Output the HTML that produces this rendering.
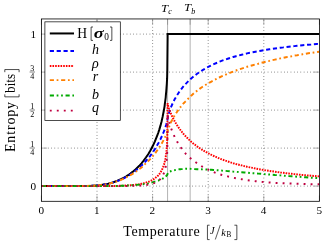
<!DOCTYPE html>
<html><head><meta charset="utf-8"><title>Entropy vs Temperature</title>
<style>html,body{margin:0;padding:0;background:#fff;width:327px;height:244px;overflow:hidden}</style></head>
<body>
<svg width="327" height="244" viewBox="0 0 327 244" style="position:absolute;left:0;top:0;will-change:transform;font-family:'Liberation Serif',serif">
<rect width="327" height="244" fill="#fff"/>
<path d="M97.00,201.30 V18.95" stroke="#111" stroke-width="0.75" stroke-dasharray="0.6 2.68" fill="none"/>
<path d="M152.60,201.30 V18.95" stroke="#111" stroke-width="0.75" stroke-dasharray="0.6 2.68" fill="none"/>
<path d="M208.20,201.30 V18.95" stroke="#111" stroke-width="0.75" stroke-dasharray="0.6 2.68" fill="none"/>
<path d="M263.80,201.30 V18.95" stroke="#111" stroke-width="0.75" stroke-dasharray="0.6 2.68" fill="none"/>
<path d="M41.40,186.10 H319.40" stroke="#111" stroke-width="0.75" stroke-dasharray="0.6 2.68" fill="none"/>
<path d="M41.40,148.10 H319.40" stroke="#111" stroke-width="0.75" stroke-dasharray="0.6 2.68" fill="none"/>
<path d="M41.40,110.10 H319.40" stroke="#111" stroke-width="0.75" stroke-dasharray="0.6 2.68" fill="none"/>
<path d="M41.40,72.10 H319.40" stroke="#111" stroke-width="0.75" stroke-dasharray="0.6 2.68" fill="none"/>
<path d="M41.40,34.10 H319.40" stroke="#111" stroke-width="0.75" stroke-dasharray="0.6 2.68" fill="none"/>
<path d="M167.57,201.30 V18.95" stroke="#808080" stroke-width="0.6" fill="none"/>
<path d="M190.15,201.30 V18.95" stroke="#808080" stroke-width="0.6" fill="none"/>
<path d="M41.40,201.30 v-5.80" stroke="#808080" stroke-width="0.6"/>
<path d="M41.40,18.95 v5.80" stroke="#808080" stroke-width="0.6"/>
<path d="M97.00,201.30 v-5.80" stroke="#808080" stroke-width="0.6"/>
<path d="M97.00,18.95 v5.80" stroke="#808080" stroke-width="0.6"/>
<path d="M152.60,201.30 v-5.80" stroke="#808080" stroke-width="0.6"/>
<path d="M152.60,18.95 v5.80" stroke="#808080" stroke-width="0.6"/>
<path d="M208.20,201.30 v-5.80" stroke="#808080" stroke-width="0.6"/>
<path d="M208.20,18.95 v5.80" stroke="#808080" stroke-width="0.6"/>
<path d="M263.80,201.30 v-5.80" stroke="#808080" stroke-width="0.6"/>
<path d="M263.80,18.95 v5.80" stroke="#808080" stroke-width="0.6"/>
<path d="M319.40,201.30 v-5.80" stroke="#808080" stroke-width="0.6"/>
<path d="M319.40,18.95 v5.80" stroke="#808080" stroke-width="0.6"/>
<path d="M167.57,18.95 v5.80" stroke="#808080" stroke-width="0.6"/>
<path d="M190.15,18.95 v5.80" stroke="#808080" stroke-width="0.6"/>
<path d="M41.40,186.10 h5.80" stroke="#808080" stroke-width="0.6"/>
<path d="M319.40,186.10 h-5.80" stroke="#808080" stroke-width="0.6"/>
<path d="M41.40,148.10 h5.80" stroke="#808080" stroke-width="0.6"/>
<path d="M319.40,148.10 h-5.80" stroke="#808080" stroke-width="0.6"/>
<path d="M41.40,110.10 h5.80" stroke="#808080" stroke-width="0.6"/>
<path d="M319.40,110.10 h-5.80" stroke="#808080" stroke-width="0.6"/>
<path d="M41.40,72.10 h5.80" stroke="#808080" stroke-width="0.6"/>
<path d="M319.40,72.10 h-5.80" stroke="#808080" stroke-width="0.6"/>
<path d="M41.40,34.10 h5.80" stroke="#808080" stroke-width="0.6"/>
<path d="M319.40,34.10 h-5.80" stroke="#808080" stroke-width="0.6"/>
<clipPath id="c"><rect x="41.40" y="18.95" width="278.00" height="182.35"/></clipPath>
<g clip-path="url(#c)" fill="none">
<path d="M41.4,186.1 69.2,186.1 80.3,186.1 85.9,186.0 91.4,185.8 97.0,185.4 99.2,185.2 101.4,184.9 103.7,184.5 105.9,184.1 108.1,183.7 110.3,183.1 112.6,182.5 114.8,181.7 117.0,180.9 119.2,180.0 121.5,179.0 123.7,177.8 125.9,176.6 128.1,175.2 130.4,173.6 132.6,171.9 134.8,170.1 137.0,168.0 139.3,165.8 141.5,163.3 143.7,160.5 145.9,157.5 148.2,154.2 150.4,150.5 152.6,146.3 154.8,141.6 157.0,136.1 158.2,133.0 159.3,129.6 160.4,125.9 161.5,121.7 162.6,116.9 163.7,111.2 164.0,109.6 164.3,107.9 164.6,106.1 164.8,104.2 165.1,102.2 165.4,99.9 165.7,97.5 165.9,94.8 166.2,91.8 166.5,88.2 166.8,84.0 167.1,78.4 167.3,70.0 167.6,38.3 167.6,34.1 167.6,34.1 167.9,34.1 168.2,34.1 168.4,34.1 168.7,34.1 169.0,34.1 169.3,34.1 169.6,34.1 169.8,34.1 170.1,34.1 170.4,34.1 170.7,34.1 170.9,34.1 171.2,34.1 171.5,34.1 172.6,34.1 173.7,34.1 174.8,34.1 176.0,34.1 177.1,34.1 178.2,34.1 179.3,34.1 180.4,34.1 181.5,34.1 182.6,34.1 183.7,34.1 184.8,34.1 186.0,34.1 188.7,34.1 191.5,34.1 194.3,34.1 197.1,34.1 199.9,34.1 202.6,34.1 205.4,34.1 208.2,34.1 211.0,34.1 213.8,34.1 216.5,34.1 219.3,34.1 222.1,34.1 224.9,34.1 227.7,34.1 230.4,34.1 233.2,34.1 236.0,34.1 238.8,34.1 241.6,34.1 244.3,34.1 247.1,34.1 249.9,34.1 252.7,34.1 255.5,34.1 258.2,34.1 261.0,34.1 263.8,34.1 266.6,34.1 269.4,34.1 272.1,34.1 274.9,34.1 277.7,34.1 280.5,34.1 283.3,34.1 286.0,34.1 288.8,34.1 291.6,34.1 294.4,34.1 297.2,34.1 299.9,34.1 302.7,34.1 305.5,34.1 308.3,34.1 311.1,34.1 313.8,34.1 316.6,34.1 319.4,34.1 319.4,34.1" stroke="#000" stroke-width="2.0" stroke-linejoin="miter"/>
<path d="M41.4,186.1 69.2,186.1 80.3,186.1 85.9,186.0 91.4,185.8 97.0,185.4 99.2,185.2 101.4,184.9 103.7,184.6 105.9,184.2 108.1,183.7 110.3,183.2 112.6,182.6 114.8,181.9 117.0,181.1 119.2,180.3 121.5,179.3 123.7,178.3 125.9,177.1 128.1,175.9 130.4,174.5 132.6,173.0 134.8,171.4 137.0,169.6 139.3,167.7 141.5,165.6 143.7,163.4 145.9,161.0 148.2,158.4 150.4,155.6 152.6,152.5 154.8,149.2 157.0,145.6 158.2,143.6 159.3,141.6 160.4,139.4 161.5,137.0 162.6,134.5 163.7,131.9 164.0,131.1 164.3,130.4 164.6,129.7 164.8,128.9 165.1,128.1 165.4,127.3 165.7,126.4 165.9,125.5 166.2,124.6 166.5,123.6 166.8,122.6 167.1,121.5 167.3,120.2 167.6,118.9 167.6,118.9 167.6,118.6 167.9,117.1 168.2,115.9 168.4,114.9 168.7,113.9 169.0,112.9 169.3,112.0 169.6,111.2 169.8,110.4 170.1,109.6 170.4,108.8 170.7,108.1 170.9,107.4 171.2,106.7 171.5,106.0 172.6,103.5 173.7,101.2 174.8,99.1 176.0,97.1 177.1,95.2 178.2,93.5 179.3,91.8 180.4,90.3 181.5,88.8 182.6,87.4 183.7,86.1 184.8,84.8 186.0,83.6 188.7,80.8 191.5,78.2 194.3,75.9 197.1,73.8 199.9,71.9 202.6,70.1 205.4,68.5 208.2,66.9 211.0,65.5 213.8,64.2 216.5,63.0 219.3,61.8 222.1,60.7 224.9,59.7 227.7,58.8 230.4,57.9 233.2,57.0 236.0,56.2 238.8,55.5 241.6,54.8 244.3,54.1 247.1,53.4 249.9,52.8 252.7,52.3 255.5,51.7 258.2,51.2 261.0,50.7 263.8,50.2 266.6,49.7 269.4,49.3 272.1,48.9 274.9,48.5 277.7,48.1 280.5,47.7 283.3,47.4 286.0,47.0 288.8,46.7 291.6,46.4 294.4,46.1 297.2,45.8 299.9,45.5 302.7,45.2 305.5,45.0 308.3,44.7 311.1,44.5 313.8,44.2 316.6,44.0 319.4,43.8 319.4,43.8" stroke="#0000ff" stroke-width="1.95" stroke-dasharray="4.15 2.72"/>
<path d="M41.4,186.1 69.2,186.1 80.3,186.1 85.9,186.1 91.4,186.1 97.0,186.1 99.2,186.1 101.4,186.1 103.7,186.1 105.9,186.1 108.1,186.0 110.3,186.0 112.6,186.0 114.8,185.9 117.0,185.9 119.2,185.8 121.5,185.8 123.7,185.7 125.9,185.5 128.1,185.4 130.4,185.2 132.6,185.0 134.8,184.8 137.0,184.5 139.3,184.2 141.5,183.7 143.7,183.2 145.9,182.6 148.2,181.9 150.4,181.0 152.6,179.9 154.8,178.4 157.0,176.6 158.2,175.5 159.3,174.2 160.4,172.6 161.5,170.7 162.6,168.4 163.7,165.5 164.0,164.6 164.3,163.6 164.6,162.6 164.8,161.4 165.1,160.2 165.4,158.8 165.7,157.2 165.9,155.4 166.2,153.2 166.5,150.7 166.8,147.4 167.1,143.0 167.3,135.9 167.6,105.6 167.6,103.1 167.6,103.4 167.9,104.8 168.2,105.9 168.4,106.8 168.7,107.7 169.0,108.6 169.3,109.4 169.6,110.2 169.8,110.9 170.1,111.6 170.4,112.3 170.7,113.0 170.9,113.7 171.2,114.3 171.5,114.9 172.6,117.3 173.7,119.5 174.8,121.5 176.0,123.4 177.1,125.2 178.2,126.9 179.3,128.5 180.4,130.0 181.5,131.5 182.6,132.8 183.7,134.2 184.8,135.4 186.0,136.6 188.7,139.4 191.5,142.0 194.3,144.3 197.1,146.4 199.9,148.3 202.6,150.1 205.4,151.7 208.2,153.3 211.0,154.7 213.8,156.0 216.5,157.2 219.3,158.4 222.1,159.5 224.9,160.5 227.7,161.4 230.4,162.3 233.2,163.2 236.0,164.0 238.8,164.7 241.6,165.4 244.3,166.1 247.1,166.8 249.9,167.4 252.7,167.9 255.5,168.5 258.2,169.0 261.0,169.5 263.8,170.0 266.6,170.5 269.4,170.9 272.1,171.3 274.9,171.7 277.7,172.1 280.5,172.5 283.3,172.8 286.0,173.2 288.8,173.5 291.6,173.8 294.4,174.1 297.2,174.4 299.9,174.7 302.7,175.0 305.5,175.2 308.3,175.5 311.1,175.7 313.8,176.0 316.6,176.2 319.4,176.4 319.4,176.4" stroke="#ff0000" stroke-width="1.95" stroke-dasharray="1.6 1.08"/>
<path d="M41.4,186.1 69.2,186.1 80.3,186.1 85.9,186.0 91.4,185.8 97.0,185.4 99.2,185.2 101.4,184.9 103.7,184.6 105.9,184.2 108.1,183.8 110.3,183.3 112.6,182.7 114.8,182.0 117.0,181.3 119.2,180.5 121.5,179.7 123.7,178.7 125.9,177.6 128.1,176.4 130.4,175.2 132.6,173.9 134.8,172.4 137.0,170.8 139.3,169.1 141.5,167.4 143.7,165.4 145.9,163.3 148.2,161.1 150.4,158.8 152.6,156.3 154.8,153.7 157.0,150.7 158.2,149.0 159.3,147.4 160.4,145.7 161.5,143.9 162.6,141.9 163.7,139.9 164.0,139.4 164.3,138.9 164.6,138.3 164.8,137.8 165.1,137.1 165.4,136.4 165.7,135.7 165.9,135.1 166.2,134.6 166.5,134.1 166.8,133.4 167.1,132.5 167.3,131.8 167.6,131.1 167.6,131.1 167.6,131.0 167.9,130.1 168.2,129.2 168.4,128.5 168.7,127.8 169.0,127.1 169.3,126.4 169.6,125.6 169.8,124.9 170.1,124.2 170.4,123.5 170.7,122.9 170.9,122.4 171.2,121.8 171.5,121.2 172.6,119.1 173.7,117.0 174.8,115.1 176.0,113.4 177.1,111.8 178.2,110.2 179.3,108.7 180.4,107.2 181.5,105.8 182.6,104.4 183.7,103.2 184.8,102.1 186.0,101.0 188.7,98.1 191.5,95.4 194.3,92.9 197.1,90.7 199.9,88.6 202.6,86.8 205.4,85.0 208.2,83.4 211.0,81.8 213.8,80.3 216.5,78.9 219.3,77.5 222.1,76.2 224.9,75.0 227.7,73.8 230.4,72.7 233.2,71.6 236.0,70.5 238.8,69.5 241.6,68.6 244.3,67.7 247.1,66.8 249.9,66.0 252.7,65.2 255.5,64.4 258.2,63.7 261.0,62.9 263.8,62.2 266.6,61.5 269.4,60.9 272.1,60.2 274.9,59.6 277.7,59.0 280.5,58.4 283.3,57.8 286.0,57.2 288.8,56.7 291.6,56.2 294.4,55.6 297.2,55.2 299.9,54.7 302.7,54.2 305.5,53.8 308.3,53.3 311.1,52.9 313.8,52.5 316.6,52.1 319.4,51.7 319.4,51.7" stroke="#ff8000" stroke-width="1.95" stroke-dasharray="4.15 2.7 1.75 2.7"/>
<path d="M41.4,186.1 69.2,186.1 80.3,186.1 85.9,186.1 91.4,186.1 97.0,186.1 99.2,186.1 101.4,186.1 103.7,186.1 105.9,186.1 108.1,186.0 110.3,186.0 112.6,186.0 114.8,186.0 117.0,185.9 119.2,185.9 121.5,185.8 123.7,185.7 125.9,185.6 128.1,185.5 130.4,185.4 132.6,185.2 134.8,185.1 137.0,184.9 139.3,184.6 141.5,184.4 143.7,184.1 145.9,183.8 148.2,183.4 150.4,182.9 152.6,182.4 154.8,181.6 157.0,181.0 158.2,180.7 159.3,180.2 160.4,179.7 161.5,179.2 162.6,178.7 163.7,178.1 164.0,177.9 164.3,177.6 164.6,177.4 164.8,177.2 165.1,177.1 165.4,177.0 165.7,176.8 165.9,176.6 166.2,176.1 166.5,175.6 166.8,175.3 167.1,175.1 167.3,174.6 167.6,173.9 167.6,173.9 167.6,173.7 167.9,173.1 168.2,172.8 168.4,172.5 168.7,172.2 169.0,172.0 169.3,171.8 169.6,171.6 169.8,171.6 170.1,171.5 170.4,171.4 170.7,171.3 170.9,171.1 171.2,171.0 171.5,170.9 172.6,170.5 173.7,170.3 174.8,170.1 176.0,169.8 177.1,169.5 178.2,169.4 179.3,169.2 180.4,169.2 181.5,169.1 182.6,169.1 183.7,169.0 184.8,168.8 186.0,168.7 188.7,168.8 191.5,168.9 194.3,169.1 197.1,169.2 199.9,169.3 202.6,169.4 205.4,169.5 208.2,169.6 211.0,169.8 213.8,170.0 216.5,170.2 219.3,170.4 222.1,170.6 224.9,170.8 227.7,171.1 230.4,171.3 233.2,171.6 236.0,171.8 238.8,172.1 241.6,172.3 244.3,172.5 247.1,172.7 249.9,173.0 252.7,173.2 255.5,173.4 258.2,173.6 261.0,173.8 263.8,174.1 266.6,174.3 269.4,174.5 272.1,174.7 274.9,175.0 277.7,175.2 280.5,175.4 283.3,175.7 286.0,175.9 288.8,176.1 291.6,176.3 294.4,176.5 297.2,176.7 299.9,176.9 302.7,177.1 305.5,177.3 308.3,177.5 311.1,177.7 313.8,177.8 316.6,178.0 319.4,178.2 319.4,178.2" stroke="#00aa00" stroke-width="1.95" stroke-dasharray="4.15 2.7 1.75 2.7 1.75 2.7"/>
<path d="M41.4,186.1 69.2,186.1 80.3,186.1 85.9,186.1 91.4,186.1 97.0,186.1 99.2,186.1 101.4,186.1 103.7,186.1 105.9,186.1 108.1,186.1 110.3,186.1 112.6,186.1 114.8,186.1 117.0,186.1 119.2,186.1 121.5,186.1 123.7,186.1 125.9,186.0 128.1,186.0 130.4,186.0 132.6,185.9 134.8,185.8 137.0,185.7 139.3,185.6 141.5,185.5 143.7,185.3 145.9,185.0 148.2,184.6 150.4,184.2 152.6,183.6 154.8,182.9 157.0,181.7 158.2,180.9 159.3,180.0 160.4,179.0 161.5,177.6 162.6,175.8 163.7,173.5 164.0,172.8 164.3,172.1 164.6,171.3 164.8,170.3 165.1,169.2 165.4,167.9 165.7,166.5 165.9,164.9 166.2,163.2 166.5,161.2 166.8,158.2 167.1,154.1 167.3,147.4 167.6,117.8 167.6,113.5 167.6,114.0 167.9,116.0 168.2,117.5 168.4,118.9 168.7,120.2 169.0,121.4 169.3,122.5 169.6,123.5 169.8,124.4 170.1,125.2 170.4,126.1 170.7,126.9 170.9,127.8 171.2,128.6 171.5,129.4 172.6,132.3 173.7,134.8 174.8,137.2 176.0,139.4 177.1,141.5 178.2,143.5 179.3,145.2 180.4,146.9 181.5,148.4 182.6,149.8 183.7,151.2 184.8,152.7 186.0,154.0 188.7,156.7 191.5,159.2 194.3,161.2 197.1,163.3 199.9,165.1 202.6,166.8 205.4,168.3 208.2,169.7 211.0,171.0 213.8,172.1 216.5,173.2 219.3,174.1 222.1,175.0 224.9,175.7 227.7,176.4 230.4,177.1 233.2,177.7 236.0,178.2 238.8,178.8 241.6,179.2 244.3,179.7 247.1,180.1 249.9,180.5 252.7,180.9 255.5,181.2 258.2,181.5 261.0,181.8 263.8,182.1 266.6,182.3 269.4,182.5 272.1,182.7 274.9,182.9 277.7,183.0 280.5,183.1 283.3,183.3 286.0,183.4 288.8,183.5 291.6,183.6 294.4,183.7 297.2,183.8 299.9,183.9 302.7,183.9 305.5,184.0 308.3,184.1 311.1,184.2 313.8,184.2 316.6,184.3 319.4,184.3 319.4,184.3" stroke="#bf0040" stroke-width="1.95" stroke-dasharray="1.9 5.1"/>
</g>
<rect x="41.40" y="18.95" width="278.00" height="182.35" fill="none" stroke="#000" stroke-width="0.8"/>
<rect x="44.90" y="21.85" width="75.40" height="98.65" fill="#fff" stroke="#000" stroke-width="0.7"/>
<path d="M49.80,33.45 H74.00" stroke="#000" stroke-width="2.0"/>
<path d="M49.80,51.00 H74.00" stroke="#0000ff" stroke-width="1.95" stroke-dasharray="4.15 2.72"/>
<path d="M49.80,66.00 H74.00" stroke="#ff0000" stroke-width="1.95" stroke-dasharray="1.6 1.08"/>
<path d="M49.80,80.10 H74.00" stroke="#ff8000" stroke-width="1.95" stroke-dasharray="4.15 2.7 1.75 2.7"/>
<path d="M49.80,95.40 H74.00" stroke="#00aa00" stroke-width="1.95" stroke-dasharray="4.15 2.7 1.75 2.7 1.75 2.7"/>
<path d="M49.80,110.60 H74.00" stroke="#bf0040" stroke-width="1.95" stroke-dasharray="1.9 5.1"/>
<text x="77.2" y="37.9" font-size="13.6">H</text>
<path d="M93.0,27.0 H91.1 V40.4 H93.0" stroke="#000" stroke-width="0.7" fill="none"/>
<text x="93.7" y="37.9" font-size="14.5" font-style="italic" font-weight="bold" textLength="10" lengthAdjust="spacingAndGlyphs">σ</text>
<text x="104.2" y="39.6" font-size="9.3">0</text>
<path d="M110.0,27.0 H111.85 V40.4 H110.0" stroke="#000" stroke-width="0.7" fill="none"/>
<text x="95.4" y="54.3" font-size="14" font-style="italic" text-anchor="middle">h</text>
<text x="95.4" y="68.4" font-size="14" font-style="italic" text-anchor="middle">ρ</text>
<text x="95.4" y="81.1" font-size="14" font-style="italic" text-anchor="middle">r</text>
<text x="95.4" y="99.0" font-size="14" font-style="italic" text-anchor="middle">b</text>
<text x="95.4" y="112.0" font-size="14" font-style="italic" text-anchor="middle">q</text>
<text x="41.20" y="213.5" font-size="11.2" text-anchor="middle">0</text>
<text x="96.80" y="213.5" font-size="11.2" text-anchor="middle">1</text>
<text x="152.40" y="213.5" font-size="11.2" text-anchor="middle">2</text>
<text x="208.00" y="213.5" font-size="11.2" text-anchor="middle">3</text>
<text x="263.60" y="213.5" font-size="11.2" text-anchor="middle">4</text>
<text x="319.20" y="213.5" font-size="11.2" text-anchor="middle">5</text>
<text x="36.0" y="37.8" font-size="11.2" text-anchor="end">1</text>
<text x="36.1" y="190.1" font-size="11.2" text-anchor="end">0</text>
<text x="32.3" y="70.70" font-size="8" text-anchor="middle">3</text>
<path d="M29.6,72.00 H35.0" stroke="#000" stroke-width="0.5"/>
<text x="32.3" y="79.00" font-size="8" text-anchor="middle">4</text>
<text x="32.3" y="108.70" font-size="8" text-anchor="middle">1</text>
<path d="M29.6,110.00 H35.0" stroke="#000" stroke-width="0.5"/>
<text x="32.3" y="117.00" font-size="8" text-anchor="middle">2</text>
<text x="32.3" y="146.70" font-size="8" text-anchor="middle">1</text>
<path d="M29.6,148.00 H35.0" stroke="#000" stroke-width="0.5"/>
<text x="32.3" y="155.00" font-size="8" text-anchor="middle">4</text>
<text x="161.0" y="12.4" font-size="11" font-style="italic" textLength="7.1" lengthAdjust="spacingAndGlyphs">T</text>
<text x="168.2" y="14.2" font-size="8" font-style="italic">c</text>
<text x="183.9" y="11.4" font-size="11" font-style="italic" textLength="7.1" lengthAdjust="spacingAndGlyphs">T</text>
<text x="191.3" y="14.1" font-size="8" font-style="italic">b</text>
<text x="123.3" y="235.6" font-size="14" textLength="76.3" lengthAdjust="spacing">Temperature</text>
<path d="M209.6,225.2 H207.45 V239.6 H209.6" stroke="#000" stroke-width="0.7" fill="none"/>
<text x="210.0" y="234.1" font-size="10.3" font-style="italic">J</text>
<path d="M215.3,239.5 L220.3,224.9" stroke="#000" stroke-width="0.65"/>
<text x="221.3" y="235.7" font-size="10.3" font-style="italic">k</text>
<text x="226.6" y="237.4" font-size="7.2">B</text>
<path d="M234.4,225.2 H236.85 V239.6 H234.4" stroke="#000" stroke-width="0.7" fill="none"/>
<g transform="translate(14.7,152.1) rotate(-90)">
<text x="0" y="0" font-size="14" textLength="50.2" lengthAdjust="spacing">Entropy</text>
<path d="M57.8,-9.9 H55.25 V4.4 H57.8" stroke="#000" stroke-width="0.7" fill="none"/>
<text x="59.2" y="0" font-size="14" textLength="18.9" lengthAdjust="spacingAndGlyphs">bits</text>
<path d="M79.9,-9.9 H82.55 V4.4 H79.9" stroke="#000" stroke-width="0.7" fill="none"/>
</g>
</svg>
</body></html>
